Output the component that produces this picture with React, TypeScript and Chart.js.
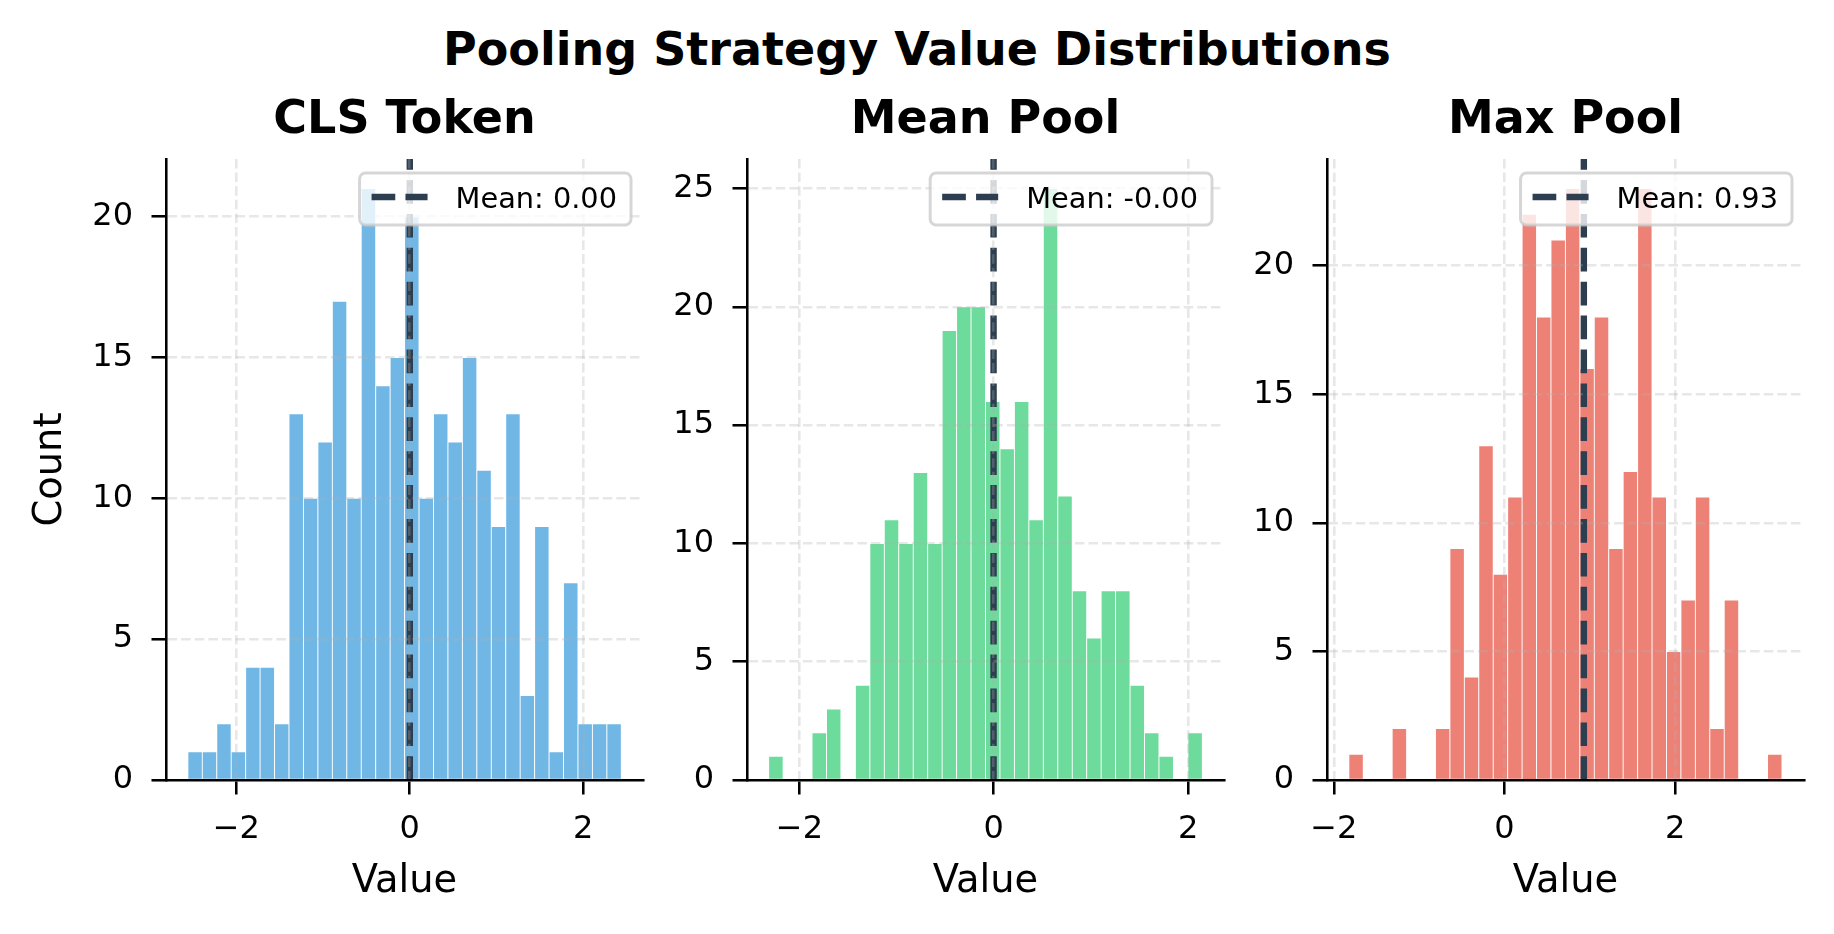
import { useEffect, useRef } from "react"
import { Chart, registerables } from "chart.js"

Chart.register(...registerables)

// ---- data ----
const figureTitle = "Pooling Strategy Value Distributions"
const panelTitles = ["CLS Token", "Mean Pool", "Max Pool"]
const xLabel = "Value"
const yLabel = "Count"

// histogram counts, 30 bins per panel
const clsCounts = [1, 1, 2, 1, 4, 4, 2, 13, 10, 12, 17, 10, 21, 14, 15, 20, 10, 13, 12, 15, 11, 9, 13, 3, 9, 1, 7, 2, 2, 2]
const meanPoolCounts = [1, 0, 0, 2, 3, 0, 4, 10, 11, 10, 13, 10, 19, 20, 20, 16, 14, 16, 11, 25, 12, 8, 6, 8, 8, 4, 2, 1, 0, 2]
const maxPoolCounts = [1, 0, 0, 2, 0, 0, 2, 9, 4, 13, 8, 11, 22, 18, 21, 23, 16, 18, 9, 12, 23, 11, 5, 7, 11, 2, 7, 0, 0, 1]

// left edge of the first bin and bin width
const binStarts = [-2.558, -2.317, -1.824]
const binWidths = [0.1666, 0.1488, 0.1692]

const meanValues = [0.001, -0.002, 0.93]

const xMins = [-2.81, -2.54, -2.08]
const xMaxs = [2.69, 2.37, 3.51]
const yMaxs = [22.05, 26.25, 24.15]
const xTicks = [-2, 0, 2]
const yTicks = [
  [0, 5, 10, 15, 20],
  [0, 5, 10, 15, 20, 25],
  [0, 5, 10, 15, 20],
]

const barColors = ["rgba(52, 152, 219, 0.7)", "rgba(46, 204, 113, 0.7)", "rgba(231, 76, 60, 0.7)"]
const meanColor = "#2c3e50"

// ---- styling / layout ----
const FONT = "'DejaVu Sans', 'Liberation Sans', sans-serif"
const GRID = "rgba(176, 176, 176, 0.3)"
const PANEL_TOP = 70
const PANEL_HEIGHT = 864
const X_AXIS_HEIGHT = 154

const layouts = [
  { left: 0, width: 680, axisLeft: 166, axisRight: 643 },
  { left: 660, width: 600, axisLeft: 747, axisRight: 1224 },
  { left: 1240, width: 594, axisLeft: 1327, axisRight: 1804 },
]

const fmtTick = (v: number) => (v < 0 ? "\u2212" + Math.abs(v) : String(v))

// legend box in the upper right corner of the plot area
const meanLegend = {
  id: "meanLegend",
  afterDraw(chart: any) {
    const ds = chart.data.datasets.find((d: any) => d.type === "line")
    if (!ds) return
    const { ctx, chartArea } = chart
    ctx.save()
    ctx.font = `28.8px ${FONT}`
    const textW = ctx.measureText(ds.label).width
    const w = 12 + 56 + 28 + textW + 14
    const h = 52
    const x = chartArea.right - 12 - w
    const y = chartArea.top + 14
    ctx.beginPath()
    ctx.roundRect(x, y, w, h, 6)
    ctx.fillStyle = "rgba(255, 255, 255, 0.8)"
    ctx.fill()
    ctx.lineWidth = 3
    ctx.strokeStyle = "rgba(204, 204, 204, 0.8)"
    ctx.stroke()

    ctx.beginPath()
    ctx.setLineDash(ds.borderDash)
    ctx.lineWidth = ds.borderWidth
    ctx.strokeStyle = ds.borderColor
    ctx.moveTo(x + 12, y + 24)
    ctx.lineTo(x + 68, y + 24)
    ctx.stroke()
    ctx.setLineDash([])

    ctx.fillStyle = "#000"
    ctx.textBaseline = "alphabetic"
    ctx.textAlign = "left"
    ctx.fillText(ds.label, x + 96, y + 35)
    ctx.restore()
  },
}

interface PanelProps {
  index: number
  counts: number[]
  showYTitle: boolean
}

function HistPanel({ index, counts, showYTitle }: PanelProps) {
  const canvasRef = useRef<HTMLCanvasElement>(null)
  const box = layouts[index]

  useEffect(() => {
    if (!canvasRef.current) return
    const mean = meanValues[index]
    const yMax = yMaxs[index]
    const bars = counts.map((c, i) => ({ x: binStarts[index] + (i + 0.5) * binWidths[index], y: c }))

    const chart = new Chart(canvasRef.current, {
      type: "bar",
      data: {
        datasets: [
          {
            type: "line",
            label: `Mean: ${mean.toFixed(2)}`,
            data: [
              { x: mean, y: 0 },
              { x: mean, y: yMax },
            ],
            borderColor: meanColor,
            borderWidth: 6.4,
            borderDash: [23.7, 10.2],
            pointRadius: 0,
            fill: false,
            order: 0,
          } as any,
          {
            type: "bar",
            label: panelTitles[index],
            data: bars,
            backgroundColor: barColors[index],
            borderColor: "#ffffff",
            borderWidth: 0.8,
            barPercentage: 1,
            categoryPercentage: 1,
            order: 1,
          } as any,
        ],
      },
      options: {
        responsive: true,
        maintainAspectRatio: false,
        animation: false,
        layout: { padding: { left: 0, top: 0, bottom: 0, right: box.left + box.width - box.axisRight } },
        plugins: {
          legend: { display: false },
          tooltip: { enabled: false },
          title: {
            display: true,
            text: panelTitles[index],
            fullSize: false,
            color: "#000",
            font: { family: FONT, size: 46, weight: "bold", lineHeight: 1.2 },
            padding: { top: 23.2, bottom: 10.6 },
          },
        },
        scales: {
          x: {
            type: "linear",
            min: xMins[index],
            max: xMaxs[index],
            offset: false,
            afterBuildTicks: (axis: any) => {
              axis.ticks = xTicks.map((v) => ({ value: v }))
            },
            afterFit: (axis: any) => {
              axis.height = X_AXIS_HEIGHT
            },
            ticks: {
              color: "#000",
              font: { family: FONT, size: 32 },
              padding: 15.5,
              maxRotation: 0,
              autoSkip: false,
              callback: (v: any) => fmtTick(Number(v)),
            },
            grid: {
              offset: false,
              color: GRID,
              lineWidth: 2.56,
              tickLength: 14.5,
              tickWidth: 2.56,
              tickColor: "#000",
              tickBorderDash: [],
              z: 1,
            },
            border: { display: true, color: "#000", width: 2.56, dash: [9.5, 4.1], z: 1 },
            title: {
              display: true,
              text: xLabel,
              color: "#000",
              font: { family: FONT, size: 38.4, lineHeight: 1.2 },
              padding: { top: 0, bottom: 29.3 },
            },
          } as any,
          y: {
            type: "linear",
            min: 0,
            max: yMax,
            afterBuildTicks: (axis: any) => {
              axis.ticks = yTicks[index].map((v) => ({ value: v }))
            },
            afterFit: (axis: any) => {
              axis.width = box.axisLeft - box.left
            },
            ticks: {
              color: "#000",
              font: { family: FONT, size: 32 },
              padding: 18.5,
              autoSkip: false,
              callback: (v: any) => fmtTick(Number(v)),
            },
            grid: {
              color: (ctx: any) => (ctx.tick && ctx.tick.value === 0 ? "rgba(0,0,0,0)" : GRID),
              lineWidth: 2.56,
              tickLength: 14.5,
              tickWidth: 2.56,
              tickColor: "#000",
              tickBorderDash: [],
              z: 1,
            },
            border: { display: true, color: "#000", width: 2.56, dash: [9.5, 4.1], z: 1 },
            title: {
              display: showYTitle,
              text: yLabel,
              color: "#000",
              font: { family: FONT, size: 38.4, lineHeight: 1.2 },
              padding: { top: 28, bottom: 0 },
            },
          } as any,
        },
      },
      plugins: [meanLegend],
    })

    return () => {
      chart.destroy()
    }
  }, [index, counts, showYTitle])

  return (
    <div
      style={{
        position: "absolute",
        left: box.left,
        top: PANEL_TOP,
        width: box.width,
        height: PANEL_HEIGHT,
      }}
    >
      <canvas ref={canvasRef} />
    </div>
  )
}

export default function App() {
  return (
    <div
      style={{
        position: "absolute",
        left: 0,
        top: 0,
        width: 1834,
        height: 934,
        background: "#ffffff",
        overflow: "hidden",
        fontFamily: FONT,
      }}
    >
      <div
        style={{
          position: "absolute",
          left: 0,
          top: 26.1,
          width: 1834,
          textAlign: "center",
          fontSize: 46,
          lineHeight: 1,
          fontWeight: "bold",
          color: "#000",
          whiteSpace: "nowrap",
        }}
      >
        {figureTitle}
      </div>
      <HistPanel index={0} counts={clsCounts} showYTitle={true} />
      <HistPanel index={1} counts={meanPoolCounts} showYTitle={false} />
      <HistPanel index={2} counts={maxPoolCounts} showYTitle={false} />
    </div>
  )
}
